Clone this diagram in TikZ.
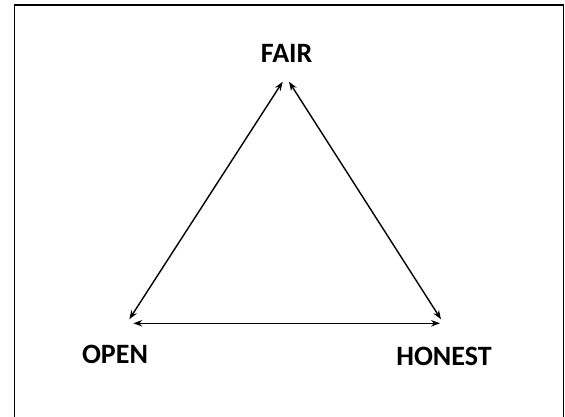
\documentclass[tikz,border=0pt]{standalone}
\usepackage{fontspec}
\setmainfont{Carlito}
\usetikzlibrary{arrows.meta}
\begin{document}
\begin{tikzpicture}[x=1pt,y=-1pt,
  frame/.style={line width=1.8pt},
  conn/.style={line width=1.4pt,{Stealth[length=9pt,width=6.5pt]}-{Stealth[length=9pt,width=6.5pt]}},
  lbl/.style={font=\bfseries\fontsize{28}{32}\selectfont, inner sep=0pt, anchor=base}]
\useasboundingbox (0,0) rectangle (565,417);
\draw[frame] (14.5,417) -- (14.5,5) -- (563.5,5) -- (563.5,417);
\node[lbl] (fair) at (286.7,63) {FAIR};
\node[lbl] (open) at (115,363) {OPEN};
\node[lbl] (honest) at (444,365) {HONEST};
\coordinate (f1) at (282.7,81.7);
\coordinate (f2) at (289,81.7);
\coordinate (o1) at (129.3,319.3);
\coordinate (o2) at (133.3,323.3);
\coordinate (h1) at (441,319.3);
\coordinate (h2) at (440,323.3);
\draw[conn] (f1) -- (o1);
\draw[conn] (f2) -- (h1);
\draw[conn] (o2) -- (h2);
\end{tikzpicture}
\end{document}
